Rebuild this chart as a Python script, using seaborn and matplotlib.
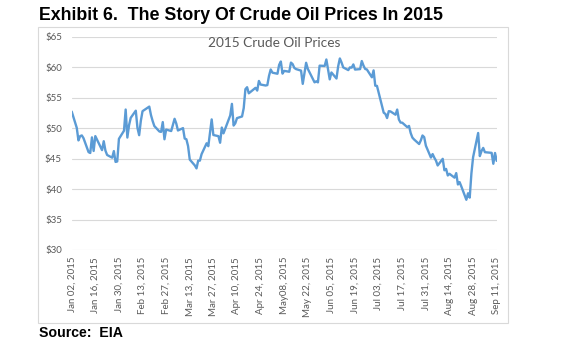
import numpy as np
import pandas as pd
import matplotlib
matplotlib.use("Agg")
import matplotlib.pyplot as plt
from matplotlib.patches import Rectangle
import seaborn as sns

# ---- data (WTI daily close) ----
jan = [52.72, 50.05, 47.98, 48.69, 48.80, 48.35, 46.06, 45.92, 48.48, 46.25, 48.69,
       46.39, 47.85, 46.31, 45.59, 45.15, 46.23, 44.45, 44.53, 48.24]
feb = [49.57, 53.05, 48.45, 50.48, 51.69, 52.86, 50.02, 48.84, 51.21, 52.78, 53.53,
       52.14, 51.16, 50.34, 49.45, 49.38, 50.99, 48.17, 49.76]
mar = [49.52, 50.52, 51.53, 50.76, 49.61, 50.00, 48.29, 48.17, 47.05, 44.84, 43.88,
       43.39, 44.67, 44.66, 45.72, 47.51, 47.03, 49.21, 51.43, 48.87, 48.68, 47.60]
apr = [50.09, 49.14, 52.08, 53.98, 50.42, 50.79, 51.64, 51.91, 53.29, 56.39, 56.71,
       55.71, 56.38, 56.61, 56.16, 57.74, 57.15, 56.99, 57.06, 58.58, 59.62]
may = [59.10, 58.92, 60.38, 60.93, 58.94, 59.39, 59.25, 60.75, 60.50, 59.88, 59.69,
       59.43, 57.26, 58.98, 60.72, 59.72, 57.51, 57.68, 57.51, 60.25]
jun = [60.20, 61.26, 59.64, 58.00, 59.13, 58.14, 60.14, 61.43, 60.77, 59.96, 59.52,
       59.97, 59.92, 60.45, 59.61, 59.68, 61.01, 60.27, 59.70, 59.63, 58.34, 59.47]
jul = [56.96, 56.93, 52.53, 52.33, 51.65, 52.78, 52.74, 52.20, 53.04, 51.41, 50.91,
       50.89, 50.15, 50.36, 49.19, 48.45, 48.14, 47.39, 47.98, 48.79, 48.52, 47.12]
aug = [45.17, 45.74, 45.15, 44.66, 43.87, 44.96, 43.08, 43.30, 42.23, 42.50, 41.87,
       42.62, 40.75, 41.14, 40.45, 38.24, 39.31, 38.60, 42.56, 45.22, 49.20]
sep = [45.41, 46.25, 46.75, 46.05, 45.94, 44.15, 45.92, 44.63]

holidays = ["2015-01-19", "2015-02-16", "2015-04-03", "2015-05-25",
            "2015-07-03", "2015-09-07"]
start_date = "2015-01-02"
end_date = "2015-09-11"

tick_labels = ["Jan 02, 2015", "Jan 16, 2015", "Jan 30, 2015", "Feb 13, 2015",
               "Feb 27, 2015", "Mar 13, 2015", "Mar 27, 2015", "Apr 10, 2015",
               "Apr 24, 2015", "May08, 2015", "May 22, 2015", "Jun 05, 2015",
               "Jun 19, 2015", "Jul 03, 2015", "Jul 17, 2015", "Jul 31, 2015",
               "Aug 14, 2015", "Aug 28, 2015", "Sep 11, 2015"]
y_ticks = [30, 35, 40, 45, 50, 55, 60, 65]

prices = jan + feb + mar + apr + may + jun + jul + aug + sep
dates = pd.bdate_range(start_date, end_date)
dates = dates[~dates.isin(pd.to_datetime(holidays))]
df = pd.DataFrame({"date": dates, "price": prices})

# ---- style ----
sns.set_style("white")
plt.rcParams["font.family"] = ["Lato", "DejaVu Sans"]

fig = plt.figure(figsize=(5.8, 3.48), dpi=100)
fig.patch.set_facecolor("white")

# chart frame
frame = Rectangle((38 / 580, 25 / 348), 470 / 580, 296 / 348,
                  transform=fig.transFigure, facecolor="white",
                  edgecolor="#D9D9D9", linewidth=0.8, zorder=-5)
fig.patches.append(frame)

ax = fig.add_axes([71.7 / 580, 1 - 250 / 348, 425 / 580, 213.3 / 348])
ax.set_facecolor("none")
ax.set_zorder(2)

sns.lineplot(data=df, x="date", y="price", ax=ax, color="#5B9BD5",
             linewidth=1.7, zorder=3)

ax.set_xlim(pd.Timestamp(start_date), pd.Timestamp(end_date))
ax.set_ylim(30, 65)
ax.set_yticks(y_ticks)
ax.set_yticklabels([f"${v}" for v in y_ticks])
tick_pos = pd.date_range(start_date, end_date, freq="14D")
ax.set_xticks(tick_pos)
ax.set_xticklabels(tick_labels, rotation=90)
ax.grid(axis="y", color="#D9D9D9", linewidth=0.8)
ax.grid(axis="x", visible=False)
for s in ax.spines.values():
    s.set_visible(False)
ax.tick_params(axis="both", length=0, labelsize=7, colors="#595959")
ax.tick_params(axis="y", pad=7)
ax.tick_params(axis="x", pad=5)
ax.set_xlabel("")
ax.set_ylabel("")

fig.text(274 / 580, 1 - 43 / 348, "2015 Crude Oil Prices", ha="center",
         va="center", fontsize=9.8, color="#595959", zorder=5)

fig.text(39 / 580, 1 - 15 / 348, "Exhibit 6.  The Story Of Crude Oil Prices In 2015",
         ha="left", va="center", fontsize=12.8, fontweight="bold",
         family=["Liberation Sans", "DejaVu Sans"], color="black")
fig.text(39 / 580, 1 - 333 / 348, "Source:  EIA", ha="left", va="center",
         fontsize=10.2, fontweight="bold",
         family=["Liberation Sans", "DejaVu Sans"], color="black")

fig.savefig("out.png", dpi=100)
